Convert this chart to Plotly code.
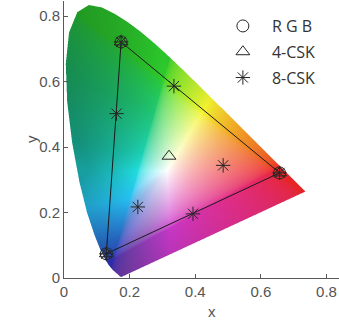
import numpy as np
import plotly.graph_objects as go

# ---------------- data ----------------
# CIE 1931 2-degree spectral locus, 380..700 nm every 5 nm
wavelength_nm = list(range(380, 705, 5))
locus_x = [0.1741, 0.1740, 0.1738, 0.1736, 0.1733, 0.1730, 0.1726, 0.1721, 0.1714, 0.1703,
           0.1689, 0.1669, 0.1644, 0.1611, 0.1566, 0.1510, 0.1440, 0.1355, 0.1241, 0.1096,
           0.0913, 0.0687, 0.0454, 0.0235, 0.0082, 0.0039, 0.0139, 0.0389, 0.0743, 0.1142,
           0.1547, 0.1929, 0.2296, 0.2658, 0.3016, 0.3373, 0.3731, 0.4087, 0.4441, 0.4788,
           0.5125, 0.5448, 0.5752, 0.6029, 0.6270, 0.6482, 0.6658, 0.6801, 0.6915, 0.7006,
           0.7079, 0.7140, 0.7190, 0.7230, 0.7260, 0.7283, 0.7300, 0.7311, 0.7320, 0.7327,
           0.7334, 0.7340, 0.7344, 0.7346, 0.7347]
locus_y = [0.0050, 0.0050, 0.0049, 0.0049, 0.0048, 0.0048, 0.0048, 0.0048, 0.0051, 0.0058,
           0.0069, 0.0086, 0.0109, 0.0138, 0.0177, 0.0227, 0.0297, 0.0399, 0.0578, 0.0868,
           0.1327, 0.2007, 0.2950, 0.4127, 0.5384, 0.6548, 0.7502, 0.8120, 0.8338, 0.8262,
           0.8059, 0.7816, 0.7543, 0.7243, 0.6923, 0.6589, 0.6245, 0.5896, 0.5547, 0.5202,
           0.4866, 0.4544, 0.4242, 0.3965, 0.3725, 0.3514, 0.3340, 0.3197, 0.3083, 0.2993,
           0.2920, 0.2859, 0.2809, 0.2770, 0.2740, 0.2717, 0.2700, 0.2689, 0.2680, 0.2673,
           0.2666, 0.2660, 0.2656, 0.2654, 0.2653]

# RGB LED chromaticities (R, G, B)
rgb_x = [0.657, 0.174, 0.129]
rgb_y = [0.321, 0.721, 0.074]

# 4-CSK constellation
csk4_x = [0.657, 0.174, 0.129, 0.320]
csk4_y = [0.321, 0.721, 0.074, 0.372]

# 8-CSK constellation
csk8_x = [0.657, 0.174, 0.129, 0.335, 0.160, 0.393, 0.225, 0.485]
csk8_y = [0.321, 0.721, 0.074, 0.586, 0.502, 0.196, 0.217, 0.344]

x_ticks = [0, 0.2, 0.4, 0.6, 0.8]
y_ticks = [0, 0.2, 0.4, 0.6, 0.8]

# ---------------- gamut image ----------------
X_MAX, Y_MAX = 0.838, 0.846
step = 1.0 / 328
nx = int(0.76 / step) + 2
ny = int(0.85 / step) + 2
gx = np.arange(nx) * step
gy = np.arange(ny) * step
GX, GY = np.meshgrid(gx, gy)

polx = np.array(locus_x)
poly = np.array(locus_y)


def inside(px, py):
    res = np.zeros(px.shape, bool)
    n = len(polx)
    for i in range(n):
        x1, y1 = polx[i], poly[i]
        x2, y2 = polx[(i + 1) % n], poly[(i + 1) % n]
        cond = (y1 > py) != (y2 > py)
        denom = (y2 - y1) if y2 != y1 else 1e-12
        xint = (x2 - x1) * (py - y1) / denom + x1
        res ^= cond & (px < xint)
    return res


sub = 3
alpha = np.zeros(GX.shape)
for i in range(sub):
    for j in range(sub):
        ox = ((i + 0.5) / sub - 0.5) * step
        oy = ((j + 0.5) / sub - 0.5) * step
        alpha += inside(GX + ox, GY + oy)
alpha /= sub * sub

yy = np.maximum(GY, 1e-4)
Xc = GX / yy
Zc = (1 - GX - GY) / yy
M = np.array([[3.2406, -1.5372, -0.4986],
              [-0.9689, 1.8758, 0.0415],
              [0.0557, -0.2040, 1.0570]])
lin = np.stack([M[k, 0] * Xc + M[k, 1] + M[k, 2] * Zc for k in range(3)], axis=-1)
mx = np.max(lin, axis=-1, keepdims=True)
mx = np.where(mx <= 0, 1, mx)
lin_n = lin / mx
neg = np.clip(-np.min(lin_n, axis=-1), 0, 1)
lin_c = np.clip(lin_n, 0, 1)
srgb = np.where(lin_c <= 0.0031308, 12.92 * lin_c, 1.055 * lin_c ** (1 / 2.4) - 0.055)
srgb = np.clip(srgb, 0, 1)

# HSV-style restyling to mimic the softer rendering of the reference
r, g, b = srgb[..., 0], srgb[..., 1], srgb[..., 2]
V = srgb.max(axis=-1)
mn = srgb.min(axis=-1)
C = V - mn
S = np.where(V > 0, C / np.maximum(V, 1e-9), 0)
Cs = np.maximum(C, 1e-9)
H = np.where(V == r, ((g - b) / Cs) % 6,
             np.where(V == g, (b - r) / Cs + 2, (r - g) / Cs + 4)) * 60.0
H = np.where(C < 1e-6, 0, H)
hue_pts = [0, 40, 60, 90, 120, 150, 170, 195, 215, 240, 270, 300, 330, 360]
dark_pts = [0.08, 0.05, 0.04, 0.10, 0.20, 0.22, 0.18, 0.05, 0.25, 0.33, 0.36, 0.22, 0.12, 0.08]
sat_pts = [0.84, 0.84, 0.80, 0.80, 0.78, 0.84, 0.86, 0.84, 0.80, 0.74, 0.64, 0.72, 0.80, 0.84]
kb = np.interp(H, hue_pts, dark_pts)
sf = np.interp(H, hue_pts, sat_pts)
S2 = S * sf
V2 = V * (1 - kb * S - 0.25 * neg)
T = np.where(C[..., None] > 1e-6, (V[..., None] - srgb) / Cs[..., None], 0)
out = V2[..., None] * (1 - S2[..., None] * T)
out = np.clip(out, 0, 1)

img = np.zeros((ny, nx, 4), dtype=np.uint8)
img[..., :3] = (out * 255).round().astype(np.uint8)
img[..., 3] = (alpha * 255).round().astype(np.uint8)

# ---------------- figure ----------------
fig = go.Figure()
fig.add_trace(go.Image(z=img, colormodel="rgba256", x0=0, dx=step, y0=0, dy=step,
                       hoverinfo="skip"))

ink = "#262626"
fig.add_trace(go.Scatter(x=rgb_x + [rgb_x[0]], y=rgb_y + [rgb_y[0]], mode="lines",
                         line=dict(color="#1a1a1a", width=1), showlegend=False,
                         hoverinfo="skip"))
fig.add_trace(go.Scatter(x=rgb_x, y=rgb_y, mode="markers", name="R G B",
                         legendgroup="a",
                         marker=dict(symbol="circle-open", size=12, color=ink,
                                     line=dict(width=1, color=ink))))
fig.add_trace(go.Scatter(x=csk4_x, y=csk4_y, mode="markers", name="4-CSK",
                         legendgroup="b",
                         marker=dict(symbol="triangle-up-open", size=12, color=ink,
                                     line=dict(width=1, color=ink))))
fig.add_trace(go.Scatter(x=csk8_x, y=csk8_y, mode="markers", name="8-CSK",
                         legendgroup="c",
                         marker=dict(symbol="asterisk-open", size=12, color=ink,
                                     line=dict(width=1, color=ink))))

axis_common = dict(showgrid=False, zeroline=False, showline=True, linecolor="#595959",
                   linewidth=1, ticks="inside", ticklen=4, tickcolor="#595959",
                   tickfont=dict(family="Liberation Sans", size=15, color="#555555"),
                   mirror=False, automargin=False)
fig.update_xaxes(range=[0, X_MAX], tickvals=x_ticks, ticktext=[str(v) for v in x_ticks],
                 **axis_common)
fig.update_yaxes(range=[0, Y_MAX], tickvals=y_ticks, ticktext=[str(v) for v in y_ticks],
                 scaleanchor=False, autorange=False, **axis_common)

fig.add_annotation(text="x", x=(212 - 64) / 275, y=(278 - 322) / 277, xref="paper",
                   yref="paper", showarrow=False,
                   font=dict(family="Liberation Sans", size=15, color="#555555"))
fig.add_annotation(text="y", x=(21 - 64) / 275, y=0.5, xref="paper", yref="paper",
                   showarrow=False, textangle=-90,
                   font=dict(family="Liberation Sans", size=15, color="#555555"))

fig.update_layout(
    width=339, height=328,
    margin=dict(l=64, r=0, t=1, b=50, autoexpand=False),
    paper_bgcolor="white", plot_bgcolor="white",
    legend=dict(x=0.545, y=0.971, xanchor="left", yanchor="top", itemwidth=48,
                bgcolor="rgba(0,0,0,0)", traceorder="grouped", tracegroupgap=2,
                font=dict(family="Open Sans", size=16, color="#333333")),
)

fig.write_html("out.html", config={"displayModeBar": False},
               post_script="document.body.style.margin='0px';"
                           "document.body.style.padding='0px';")
